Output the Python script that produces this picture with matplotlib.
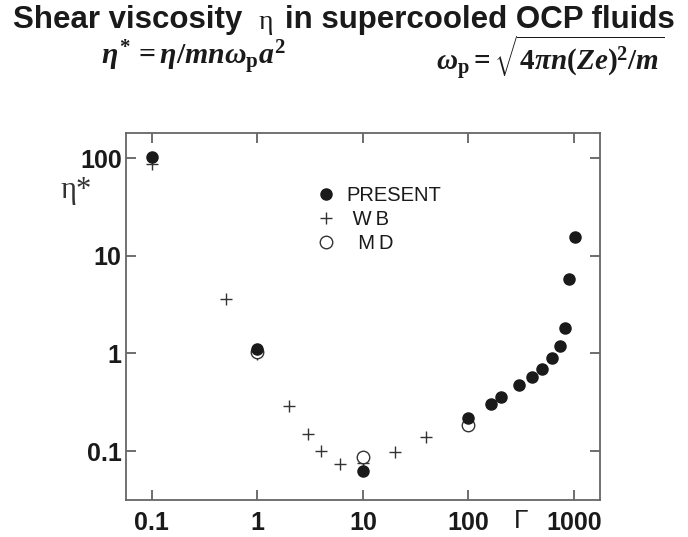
import numpy as np
import matplotlib
matplotlib.use("Agg")
import matplotlib.pyplot as plt

# data (Gamma, eta*)
present_g = [0.1, 1, 10, 100, 162, 205, 304, 404, 502, 625, 729, 813, 906, 1020]
present_eta = [102, 1.12, 0.0625, 0.217, 0.30, 0.356, 0.47, 0.57, 0.70, 0.89, 1.18, 1.84, 5.8, 15.6]

wb_g = [0.1, 0.5, 1, 2, 3, 4, 6, 10, 20, 40]
wb_eta = [88, 3.6, 0.98, 0.29, 0.15, 0.10, 0.074, 0.075, 0.097, 0.14]

md_g = [1, 10, 100]
md_eta = [1.03, 0.0875, 0.183]

xticks = [0.1, 1, 10, 100, 1000]
xticklabels = ["0.1", "1", "10", "100", "1000"]
yticks = [0.1, 1, 10, 100]
yticklabels = ["0.1", "1", "10", "100"]

plt.rcParams['font.family'] = ['Liberation Sans', 'DejaVu Sans']
plt.rcParams['mathtext.fontset'] = 'custom'
plt.rcParams['mathtext.rm'] = 'Liberation Serif:bold'
plt.rcParams['mathtext.it'] = 'Liberation Serif:italic:bold'
plt.rcParams['mathtext.bf'] = 'Liberation Serif:bold'

fig = plt.figure(figsize=(6.88, 5.37), dpi=100)
ax = fig.add_axes([0.183, 0.069, 0.689, 0.683])

ink = '#1a1a1a'
ax.plot(wb_g, wb_eta, '+', color='#333333', ms=8, mew=1.0, label=' W\u2009B', zorder=2)
ax.plot(md_g, md_eta, 'o', mfc='white', mec='#333333', ms=9, mew=1.0, label='  M\u2009D', zorder=3)
ax.plot(present_g, present_eta, 'o', color=ink, ms=8, label='PRESENT', zorder=4)

ax.set_xscale('log')
ax.set_yscale('log')
ax.set_xlim(0.0568, 1760)
ax.set_ylim(0.0316, 180)

ax.set_xticks(xticks)
ax.set_xticklabels(xticklabels)
ax.set_yticks(yticks)
ax.set_yticklabels(yticklabels)
ax.minorticks_off()
ax.tick_params(direction='in', length=7, width=1.2, color='#555555',
               top=True, right=True, labelsize=18)
for lab in ax.get_xticklabels() + ax.get_yticklabels():
    lab.set_fontweight('bold')
    lab.set_color(ink)
ax.tick_params(axis='x', pad=8)
ax.tick_params(axis='y', pad=3)

for s in ax.spines.values():
    s.set_color('#666666')
    s.set_linewidth(1.3)

# legend, order as in the figure
h, l = ax.get_legend_handles_labels()
order = [2, 0, 1]
leg = ax.legend([h[i] for i in order], [l[i] for i in order],
                loc='upper left', bbox_to_anchor=(0.362, 0.905),
                frameon=False, fontsize=14.5, handletextpad=0.55,
                labelspacing=0.25, handlelength=1.0)
for t in leg.get_texts():
    t.set_color(ink)

ax.text(-0.072, 0.845, '\u03b7*', transform=ax.transAxes, fontsize=22,
        ha='right', va='center', color='#333333', family='Liberation Serif')
ax.text(0.833, -0.026, '\u0393', transform=ax.transAxes, fontsize=19,
        ha='center', va='top', color=ink)

fig.text(0.019, 0.963, 'Shear viscosity', ha='left', va='center', fontsize=22.5,
         fontweight='bold', color=ink)
fig.text(0.386, 0.958, '\u03b7', ha='center', va='center', fontsize=20,
         family='Liberation Serif', color=ink)
fig.text(0.414, 0.963, 'in supercooled OCP fluids', ha='left', va='center',
         fontsize=22.5, fontweight='bold', color=ink)
fig.text(0.281, 0.893, r'$\eta^{\!*} = \eta/mn\omega_\mathrm{p}a^2$', ha='center',
         va='center', fontsize=21.5, color=ink)
fig.text(0.8, 0.893, r'$\omega_\mathrm{p} = \sqrt{4\pi n(Ze)^2/m}$',
         ha='center', va='center', fontsize=21, color=ink)

fig.savefig('out.png', dpi=100)
